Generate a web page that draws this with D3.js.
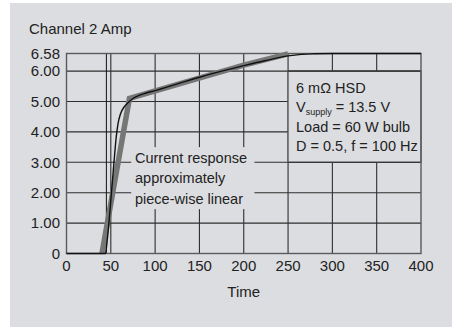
<!DOCTYPE html>
<html><head><meta charset="utf-8">
<script src="https://cdn.jsdelivr.net/npm/d3@7"></script>
<style>
html,body{margin:0;padding:0;background:#fff;}
svg{display:block;font-family:"Liberation Sans",Arial,Helvetica,sans-serif;}
</style></head>
<body>
<script>
// ---- data ----
const xTicks = [0, 50, 100, 150, 200, 250, 300, 350, 400];
const yTicks = [0, 1, 2, 3, 4, 5, 6, 6.58];
const yTickLabels = ["0", "1.00", "2.00", "3.00", "4.00", "5.00", "6.00", "6.58"];
const measuredTime = [0, 44, 46, 48, 50, 52, 54, 56, 58, 61, 65, 70, 75, 80, 90, 100, 125, 150, 175, 200, 225, 250, 265, 280, 300, 400];
const measuredAmp  = [0, 0, 0.45, 1.05, 1.75, 2.45, 3.15, 3.8, 4.25, 4.6, 4.82, 4.98, 5.1, 5.18, 5.28, 5.36, 5.58, 5.8, 6.0, 6.18, 6.35, 6.5, 6.55, 6.57, 6.58, 6.58];
const linearTime = [40, 71, 200, 250];
const linearAmp  = [0, 5.1, 6.2, 6.57];
const markerTime = [45];
const noteLines = ["Current response", "approximately", "piece-wise linear"];

const W = 452, H = 327;
const bg = "#dcdde0";
const svg = d3.select("body").append("svg").attr("width", W).attr("height", H);
svg.append("rect").attr("x", 10).attr("y", 3).attr("width", W - 10).attr("height", H - 3).attr("fill", bg);

const x = d3.scaleLinear().domain([0, 400]).range([66.5, 421]);
const y = d3.scaleLinear().domain([0, 6.58]).range([253.5, 53.5]);

const grid = svg.append("g");
grid.selectAll("line.h").data(yTicks.filter(v => v > 0 && v < 6.58)).enter().append("line")
  .attr("x1", x(0)).attr("x2", x(400)).attr("y1", d => y(d)).attr("y2", d => y(d))
  .attr("stroke", "#2e2e2e").attr("stroke-width", 1.1);
grid.selectAll("line.v").data(xTicks.filter(v => v > 0 && v < 400)).enter().append("line")
  .attr("x1", d => x(d)).attr("x2", d => x(d)).attr("y1", y(0)).attr("y2", y(6.58))
  .attr("stroke", "#2e2e2e").attr("stroke-width", 1.1);
grid.selectAll("line.m").data(markerTime).enter().append("line")
  .attr("x1", d => x(d)).attr("x2", d => x(d)).attr("y1", y(0)).attr("y2", y(6.58))
  .attr("stroke", "#111").attr("stroke-width", 1);

// note box (covers grid)
svg.append("rect").attr("x", x(73)).attr("y", y(3.5)).attr("width", x(212) - x(73)).attr("height", y(1.46) - y(3.5)).attr("fill", bg);
// info box
svg.append("rect").attr("x", x(250)).attr("y", y(6)).attr("width", x(400) - x(250)).attr("height", y(3) - y(6))
  .attr("fill", bg).attr("stroke", "#555").attr("stroke-width", 1.2);
svg.append("line").attr("x1", x(250)).attr("x2", x(400)).attr("y1", y(6)).attr("y2", y(6)).attr("stroke", "#2e2e2e").attr("stroke-width", 1.1);
svg.append("line").attr("x1", x(250)).attr("x2", x(400)).attr("y1", y(3)).attr("y2", y(3)).attr("stroke", "#2e2e2e").attr("stroke-width", 1.1);

// frame
svg.append("rect").attr("x", x(0)).attr("y", y(6.58)).attr("width", x(400) - x(0)).attr("height", y(0) - y(6.58))
  .attr("fill", "none").attr("stroke", "#5a5a5a").attr("stroke-width", 1.4);

// curves
const lineGen = d3.line().x(d => x(d[0])).y(d => y(d[1]));
svg.append("path").datum(linearTime.map((t, i) => [t, linearAmp[i]]))
  .attr("d", lineGen).attr("fill", "none").attr("stroke", "#767676").attr("stroke-width", 5.5).attr("stroke-linejoin", "miter");
svg.append("path").datum(measuredTime.map((t, i) => [t, measuredAmp[i]]))
  .attr("d", lineGen.curve(d3.curveMonotoneX)).attr("fill", "none").attr("stroke", "#111").attr("stroke-width", 1.4);

// axes labels
const txt = "#222";
svg.selectAll("text.xt").data(xTicks).enter().append("text")
  .attr("x", d => x(d)).attr("y", 271).attr("text-anchor", "middle").attr("font-size", 15).attr("fill", txt).text(d => d);
svg.selectAll("text.yt").data(yTicks).enter().append("text")
  .attr("x", 60).attr("y", d => y(d)).attr("dy", "0.35em").attr("text-anchor", "end").attr("font-size", 15).attr("fill", txt)
  .text((d, i) => yTickLabels[i]);
svg.append("text").attr("x", x(200)).attr("y", 297).attr("text-anchor", "middle").attr("font-size", 15).attr("fill", txt).text("Time");
svg.append("text").attr("x", 29).attr("y", 34).attr("font-size", 15).attr("fill", txt).text("Channel 2 Amp");

svg.selectAll("text.note").data(noteLines).enter().append("text")
  .attr("x", 135).attr("y", (d, i) => 163 + i * 20.3).attr("font-size", 14.5).attr("fill", txt).text(d => d);

const info = svg.append("g").attr("font-size", 14.5).attr("fill", txt);
info.append("text").attr("x", 296).attr("y", 92.7).text("6 m\u03A9 HSD");
const vt = info.append("text").attr("x", 296).attr("y", 111.9);
vt.append("tspan").text("V");
vt.append("tspan").attr("font-size", 9).attr("dy", 3).text("supply");
vt.append("tspan").attr("dy", -3).text(" = 13.5 V");
info.append("text").attr("x", 296).attr("y", 131.5).text("Load = 60 W bulb");
info.append("text").attr("x", 296).attr("y", 150.9).text("D = 0.5, f = 100 Hz");
</script>
</body></html>
